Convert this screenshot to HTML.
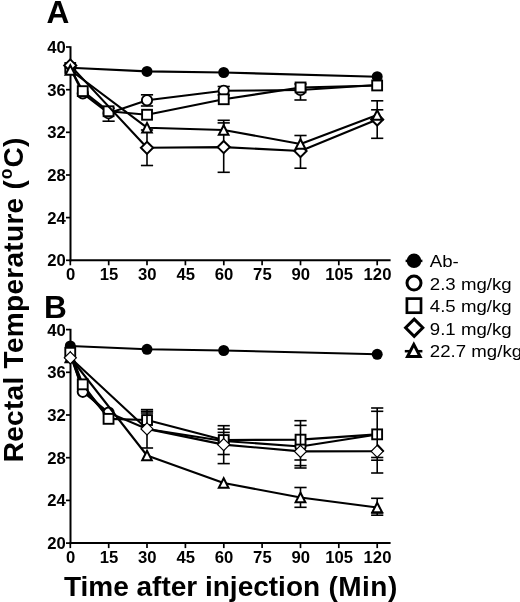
<!DOCTYPE html>
<html lang="en">
<head>
<meta charset="utf-8">
<title>Rectal temperature after injection</title>
<style>
html,body{margin:0;padding:0;background:#fff;}
body{width:520px;height:602px;overflow:hidden;font-family:"Liberation Sans",Arial,sans-serif;}
svg{display:block;will-change:transform;}
text{font-family:"Liberation Sans",Arial,sans-serif;fill:#000;}
.tk{font-size:15.6px;font-weight:bold;}
.lg{font-size:17.2px;}
.pl{font-size:31.6px;font-weight:bold;}
.ax{font-weight:bold;}
</style>
</head>
<body>
<svg width="520" height="602" viewBox="0 0 520 602">
<rect width="520" height="602" fill="#fff"/>
<g id="panelA">
<line x1="70.5" y1="46.2" x2="70.5" y2="261.3" stroke="#000" stroke-width="2"/>
<line x1="69.5" y1="260.3" x2="390.6" y2="260.3" stroke="#000" stroke-width="2"/>
<line x1="66" y1="47.0" x2="70" y2="47.0" stroke="#000" stroke-width="1.7"/>
<text transform="translate(65.7,53.0) scale(1.07,1)" text-anchor="end" class="tk">40</text>
<line x1="66" y1="89.7" x2="70" y2="89.7" stroke="#000" stroke-width="1.7"/>
<text transform="translate(65.7,95.7) scale(1.07,1)" text-anchor="end" class="tk">36</text>
<line x1="66" y1="132.3" x2="70" y2="132.3" stroke="#000" stroke-width="1.7"/>
<text transform="translate(65.7,138.3) scale(1.07,1)" text-anchor="end" class="tk">32</text>
<line x1="66" y1="175.0" x2="70" y2="175.0" stroke="#000" stroke-width="1.7"/>
<text transform="translate(65.7,181.0) scale(1.07,1)" text-anchor="end" class="tk">28</text>
<line x1="66" y1="217.6" x2="70" y2="217.6" stroke="#000" stroke-width="1.7"/>
<text transform="translate(65.7,223.6) scale(1.07,1)" text-anchor="end" class="tk">24</text>
<line x1="66" y1="260.3" x2="70" y2="260.3" stroke="#000" stroke-width="1.7"/>
<text transform="translate(65.7,266.3) scale(1.07,1)" text-anchor="end" class="tk">20</text>
<line x1="70.3" y1="260.3" x2="70.3" y2="265.3" stroke="#000" stroke-width="1.7"/>
<text transform="translate(70.6,280.2) scale(1.07,1)" text-anchor="middle" class="tk">0</text>
<line x1="108.7" y1="260.3" x2="108.7" y2="265.3" stroke="#000" stroke-width="1.7"/>
<text transform="translate(109.0,280.2) scale(1.07,1)" text-anchor="middle" class="tk">15</text>
<line x1="147.0" y1="260.3" x2="147.0" y2="265.3" stroke="#000" stroke-width="1.7"/>
<text transform="translate(147.3,280.2) scale(1.07,1)" text-anchor="middle" class="tk">30</text>
<line x1="185.4" y1="260.3" x2="185.4" y2="265.3" stroke="#000" stroke-width="1.7"/>
<text transform="translate(185.7,280.2) scale(1.07,1)" text-anchor="middle" class="tk">45</text>
<line x1="223.8" y1="260.3" x2="223.8" y2="265.3" stroke="#000" stroke-width="1.7"/>
<text transform="translate(224.1,280.2) scale(1.07,1)" text-anchor="middle" class="tk">60</text>
<line x1="262.1" y1="260.3" x2="262.1" y2="265.3" stroke="#000" stroke-width="1.7"/>
<text transform="translate(262.4,280.2) scale(1.07,1)" text-anchor="middle" class="tk">75</text>
<line x1="300.5" y1="260.3" x2="300.5" y2="265.3" stroke="#000" stroke-width="1.7"/>
<text transform="translate(300.8,280.2) scale(1.07,1)" text-anchor="middle" class="tk">90</text>
<line x1="338.8" y1="260.3" x2="338.8" y2="265.3" stroke="#000" stroke-width="1.7"/>
<text transform="translate(339.1,280.2) scale(1.07,1)" text-anchor="middle" class="tk">105</text>
<line x1="377.2" y1="260.3" x2="377.2" y2="265.3" stroke="#000" stroke-width="1.7"/>
<text transform="translate(377.5,280.2) scale(1.07,1)" text-anchor="middle" class="tk">120</text>
<polyline points="70.3,67.8 147.0,71.4 223.7,72.5 377.2,76.7" fill="none" stroke="#000" stroke-width="2.1" stroke-linejoin="round"/>
<circle cx="70.3" cy="67.8" r="5.5" fill="#000"/>
<circle cx="147.0" cy="71.4" r="5.5" fill="#000"/>
<circle cx="223.7" cy="72.5" r="5.5" fill="#000"/>
<circle cx="377.2" cy="76.7" r="5.5" fill="#000"/>
<polyline points="70.3,68.0 82.8,93.4 108.6,113.2 147.0,100.3 223.7,90.8 300.5,90.0 377.2,85.0" fill="none" stroke="#000" stroke-width="2.1" stroke-linejoin="round"/>
<line x1="108.6" y1="108.2" x2="108.6" y2="121.2" stroke="#000" stroke-width="1.6"/>
<line x1="102.5" y1="108.2" x2="114.7" y2="108.2" stroke="#000" stroke-width="1.6"/>
<line x1="102.5" y1="121.2" x2="114.7" y2="121.2" stroke="#000" stroke-width="1.6"/>
<line x1="147.0" y1="94.8" x2="147.0" y2="106.0" stroke="#000" stroke-width="1.6"/>
<line x1="140.9" y1="94.8" x2="153.1" y2="94.8" stroke="#000" stroke-width="1.6"/>
<line x1="140.9" y1="106.0" x2="153.1" y2="106.0" stroke="#000" stroke-width="1.6"/>
<line x1="223.7" y1="86.5" x2="223.7" y2="95.0" stroke="#000" stroke-width="1.6"/>
<line x1="217.6" y1="86.5" x2="229.8" y2="86.5" stroke="#000" stroke-width="1.6"/>
<line x1="217.6" y1="95.0" x2="229.8" y2="95.0" stroke="#000" stroke-width="1.6"/>
<line x1="300.5" y1="84.0" x2="300.5" y2="100.0" stroke="#000" stroke-width="1.6"/>
<line x1="294.4" y1="84.0" x2="306.6" y2="84.0" stroke="#000" stroke-width="1.6"/>
<line x1="294.4" y1="100.0" x2="306.6" y2="100.0" stroke="#000" stroke-width="1.6"/>
<circle cx="82.8" cy="93.4" r="5.15" fill="#fff" stroke="#000" stroke-width="1.9"/>
<circle cx="108.6" cy="113.2" r="5.15" fill="#fff" stroke="#000" stroke-width="1.9"/>
<circle cx="147.0" cy="100.3" r="5.15" fill="#fff" stroke="#000" stroke-width="1.9"/>
<circle cx="223.7" cy="90.8" r="5.15" fill="#fff" stroke="#000" stroke-width="1.9"/>
<circle cx="300.5" cy="90.0" r="5.15" fill="#fff" stroke="#000" stroke-width="1.9"/>
<polyline points="70.3,68.0 82.8,91.2 108.6,111.3 147.0,114.8 223.7,99.3 300.5,87.5 377.2,85.5" fill="none" stroke="#000" stroke-width="2.1" stroke-linejoin="round"/>
<rect x="65.3" y="63.0" width="9.9" height="9.9" fill="#fff" stroke="#000" stroke-width="1.9"/>
<rect x="77.8" y="86.2" width="9.9" height="9.9" fill="#fff" stroke="#000" stroke-width="1.9"/>
<rect x="103.6" y="106.3" width="9.9" height="9.9" fill="#fff" stroke="#000" stroke-width="1.9"/>
<rect x="142.1" y="109.8" width="9.9" height="9.9" fill="#fff" stroke="#000" stroke-width="1.9"/>
<rect x="218.8" y="94.3" width="9.9" height="9.9" fill="#fff" stroke="#000" stroke-width="1.9"/>
<rect x="295.6" y="82.5" width="9.9" height="9.9" fill="#fff" stroke="#000" stroke-width="1.9"/>
<rect x="372.2" y="80.5" width="9.9" height="9.9" fill="#fff" stroke="#000" stroke-width="1.9"/>
<polyline points="70.3,65.4 147.0,147.8 223.7,147.1 300.5,151.0 377.2,119.5" fill="none" stroke="#000" stroke-width="2.1" stroke-linejoin="round"/>
<line x1="147.0" y1="130.0" x2="147.0" y2="165.5" stroke="#000" stroke-width="1.6"/>
<line x1="140.9" y1="130.0" x2="153.1" y2="130.0" stroke="#000" stroke-width="1.6"/>
<line x1="140.9" y1="165.5" x2="153.1" y2="165.5" stroke="#000" stroke-width="1.6"/>
<line x1="223.7" y1="120.3" x2="223.7" y2="172.3" stroke="#000" stroke-width="1.6"/>
<line x1="217.6" y1="120.3" x2="229.8" y2="120.3" stroke="#000" stroke-width="1.6"/>
<line x1="217.6" y1="172.3" x2="229.8" y2="172.3" stroke="#000" stroke-width="1.6"/>
<line x1="300.5" y1="140.0" x2="300.5" y2="168.2" stroke="#000" stroke-width="1.6"/>
<line x1="294.4" y1="168.2" x2="306.6" y2="168.2" stroke="#000" stroke-width="1.6"/>
<line x1="377.2" y1="100.8" x2="377.2" y2="138.3" stroke="#000" stroke-width="1.6"/>
<line x1="371.1" y1="100.8" x2="383.3" y2="100.8" stroke="#000" stroke-width="1.6"/>
<line x1="371.1" y1="138.3" x2="383.3" y2="138.3" stroke="#000" stroke-width="1.6"/>
<path d="M70.3 59.4L76.3 65.4L70.3 71.5L64.2 65.4Z" fill="#fff" stroke="#000" stroke-width="2"/>
<path d="M147.0 141.8L153.1 147.8L147.0 153.9L140.9 147.8Z" fill="#fff" stroke="#000" stroke-width="2"/>
<path d="M223.7 141.0L229.8 147.1L223.7 153.2L217.6 147.1Z" fill="#fff" stroke="#000" stroke-width="2"/>
<path d="M300.5 144.9L306.6 151.0L300.5 157.1L294.4 151.0Z" fill="#fff" stroke="#000" stroke-width="2"/>
<path d="M377.2 113.5L383.2 119.5L377.2 125.5L371.1 119.5Z" fill="#fff" stroke="#000" stroke-width="2"/>
<polyline points="70.3,70.0 147.0,127.7 223.7,130.0 300.5,144.0 377.2,115.0" fill="none" stroke="#000" stroke-width="2.1" stroke-linejoin="round"/>
<line x1="223.7" y1="122.9" x2="223.7" y2="130.0" stroke="#000" stroke-width="1.6"/>
<line x1="217.6" y1="122.9" x2="229.8" y2="122.9" stroke="#000" stroke-width="1.6"/>
<line x1="300.5" y1="135.5" x2="300.5" y2="143.0" stroke="#000" stroke-width="1.6"/>
<line x1="294.4" y1="135.5" x2="306.6" y2="135.5" stroke="#000" stroke-width="1.6"/>
<line x1="377.2" y1="109.8" x2="377.2" y2="115.0" stroke="#000" stroke-width="1.6"/>
<line x1="371.1" y1="109.8" x2="383.3" y2="109.8" stroke="#000" stroke-width="1.6"/>
<path d="M70.3 65.2L75.1 74.8L65.5 74.8Z" fill="#fff" stroke="#000" stroke-width="2"/>
<path d="M147.0 122.9L151.8 132.5L142.2 132.5Z" fill="#fff" stroke="#000" stroke-width="2"/>
<path d="M223.7 125.2L228.5 134.8L218.8 134.8Z" fill="#fff" stroke="#000" stroke-width="2"/>
<path d="M300.5 139.2L305.4 148.8L295.6 148.8Z" fill="#fff" stroke="#000" stroke-width="2"/>
<path d="M377.2 110.2L382.1 119.8L372.3 119.8Z" fill="#fff" stroke="#000" stroke-width="2"/>
</g>
<g id="panelB">
<line x1="70.5" y1="328.8" x2="70.5" y2="544.1" stroke="#000" stroke-width="2"/>
<line x1="69.5" y1="543.1" x2="390.6" y2="543.1" stroke="#000" stroke-width="2"/>
<line x1="66" y1="329.6" x2="70" y2="329.6" stroke="#000" stroke-width="1.7"/>
<text transform="translate(65.7,335.6) scale(1.07,1)" text-anchor="end" class="tk">40</text>
<line x1="66" y1="372.3" x2="70" y2="372.3" stroke="#000" stroke-width="1.7"/>
<text transform="translate(65.7,378.3) scale(1.07,1)" text-anchor="end" class="tk">36</text>
<line x1="66" y1="415.0" x2="70" y2="415.0" stroke="#000" stroke-width="1.7"/>
<text transform="translate(65.7,421.0) scale(1.07,1)" text-anchor="end" class="tk">32</text>
<line x1="66" y1="457.7" x2="70" y2="457.7" stroke="#000" stroke-width="1.7"/>
<text transform="translate(65.7,463.7) scale(1.07,1)" text-anchor="end" class="tk">28</text>
<line x1="66" y1="500.4" x2="70" y2="500.4" stroke="#000" stroke-width="1.7"/>
<text transform="translate(65.7,506.4) scale(1.07,1)" text-anchor="end" class="tk">24</text>
<line x1="66" y1="543.1" x2="70" y2="543.1" stroke="#000" stroke-width="1.7"/>
<text transform="translate(65.7,549.1) scale(1.07,1)" text-anchor="end" class="tk">20</text>
<line x1="70.3" y1="543.1" x2="70.3" y2="548.1" stroke="#000" stroke-width="1.7"/>
<text transform="translate(70.6,563.0) scale(1.07,1)" text-anchor="middle" class="tk">0</text>
<line x1="108.7" y1="543.1" x2="108.7" y2="548.1" stroke="#000" stroke-width="1.7"/>
<text transform="translate(109.0,563.0) scale(1.07,1)" text-anchor="middle" class="tk">15</text>
<line x1="147.0" y1="543.1" x2="147.0" y2="548.1" stroke="#000" stroke-width="1.7"/>
<text transform="translate(147.3,563.0) scale(1.07,1)" text-anchor="middle" class="tk">30</text>
<line x1="185.4" y1="543.1" x2="185.4" y2="548.1" stroke="#000" stroke-width="1.7"/>
<text transform="translate(185.7,563.0) scale(1.07,1)" text-anchor="middle" class="tk">45</text>
<line x1="223.8" y1="543.1" x2="223.8" y2="548.1" stroke="#000" stroke-width="1.7"/>
<text transform="translate(224.1,563.0) scale(1.07,1)" text-anchor="middle" class="tk">60</text>
<line x1="262.1" y1="543.1" x2="262.1" y2="548.1" stroke="#000" stroke-width="1.7"/>
<text transform="translate(262.4,563.0) scale(1.07,1)" text-anchor="middle" class="tk">75</text>
<line x1="300.5" y1="543.1" x2="300.5" y2="548.1" stroke="#000" stroke-width="1.7"/>
<text transform="translate(300.8,563.0) scale(1.07,1)" text-anchor="middle" class="tk">90</text>
<line x1="338.8" y1="543.1" x2="338.8" y2="548.1" stroke="#000" stroke-width="1.7"/>
<text transform="translate(339.1,563.0) scale(1.07,1)" text-anchor="middle" class="tk">105</text>
<line x1="377.2" y1="543.1" x2="377.2" y2="548.1" stroke="#000" stroke-width="1.7"/>
<text transform="translate(377.5,563.0) scale(1.07,1)" text-anchor="middle" class="tk">120</text>
<polyline points="70.3,346.0 147.0,349.3 223.7,350.5 377.2,354.3" fill="none" stroke="#000" stroke-width="2.1" stroke-linejoin="round"/>
<circle cx="70.3" cy="346.0" r="5.5" fill="#000"/>
<circle cx="147.0" cy="349.3" r="5.5" fill="#000"/>
<circle cx="223.7" cy="350.5" r="5.5" fill="#000"/>
<circle cx="377.2" cy="354.3" r="5.5" fill="#000"/>
<polyline points="70.3,352.7 82.8,391.8 108.6,412.6 147.0,429.0 223.7,441.0 300.5,446.5 377.2,434.5" fill="none" stroke="#000" stroke-width="2.1" stroke-linejoin="round"/>
<polyline points="70.3,354.0 82.8,388.0 108.6,416.0" fill="none" stroke="#000" stroke-width="3.0" stroke-linejoin="round"/>
<circle cx="82.8" cy="391.8" r="5.15" fill="#fff" stroke="#000" stroke-width="1.9"/>
<circle cx="108.6" cy="412.6" r="5.15" fill="#fff" stroke="#000" stroke-width="1.9"/>
<circle cx="223.7" cy="441.0" r="5.15" fill="#fff" stroke="#000" stroke-width="1.9"/>
<circle cx="300.5" cy="446.5" r="5.15" fill="#fff" stroke="#000" stroke-width="1.9"/>
<polyline points="70.3,352.7 82.8,384.3 108.6,418.9 147.0,420.0 223.7,440.0 300.5,439.6 377.2,434.4" fill="none" stroke="#000" stroke-width="2.1" stroke-linejoin="round"/>
<rect x="65.3" y="347.8" width="9.9" height="9.9" fill="#fff" stroke="#000" stroke-width="1.9"/>
<rect x="77.8" y="379.4" width="9.9" height="9.9" fill="#fff" stroke="#000" stroke-width="1.9"/>
<rect x="103.6" y="413.9" width="9.9" height="9.9" fill="#fff" stroke="#000" stroke-width="1.9"/>
<rect x="142.1" y="415.1" width="9.9" height="9.9" fill="#fff" stroke="#000" stroke-width="1.9"/>
<rect x="218.8" y="435.1" width="9.9" height="9.9" fill="#fff" stroke="#000" stroke-width="1.9"/>
<rect x="295.6" y="434.7" width="9.9" height="9.9" fill="#fff" stroke="#000" stroke-width="1.9"/>
<rect x="372.2" y="429.4" width="9.9" height="9.9" fill="#fff" stroke="#000" stroke-width="1.9"/>
<polyline points="70.3,357.5 147.0,455.5 223.7,483.0 300.5,497.5 377.2,507.5" fill="none" stroke="#000" stroke-width="2.1" stroke-linejoin="round"/>
<line x1="300.5" y1="487.5" x2="300.5" y2="507.3" stroke="#000" stroke-width="1.6"/>
<line x1="294.4" y1="487.5" x2="306.6" y2="487.5" stroke="#000" stroke-width="1.6"/>
<line x1="294.4" y1="507.3" x2="306.6" y2="507.3" stroke="#000" stroke-width="1.6"/>
<line x1="377.2" y1="498.3" x2="377.2" y2="515.0" stroke="#000" stroke-width="1.6"/>
<line x1="371.1" y1="498.3" x2="383.3" y2="498.3" stroke="#000" stroke-width="1.6"/>
<line x1="371.1" y1="513.0" x2="383.3" y2="513.0" stroke="#000" stroke-width="1.6"/>
<line x1="371.1" y1="515.2" x2="383.3" y2="515.2" stroke="#000" stroke-width="1.6"/>
<path d="M70.3 352.7L75.1 362.3L65.5 362.3Z" fill="#fff" stroke="#000" stroke-width="2"/>
<path d="M147.0 450.7L151.8 460.3L142.2 460.3Z" fill="#fff" stroke="#000" stroke-width="2"/>
<path d="M223.7 478.2L228.5 487.8L218.8 487.8Z" fill="#fff" stroke="#000" stroke-width="2"/>
<path d="M300.5 492.7L305.4 502.3L295.6 502.3Z" fill="#fff" stroke="#000" stroke-width="2"/>
<path d="M377.2 502.7L382.1 512.3L372.3 512.3Z" fill="#fff" stroke="#000" stroke-width="2"/>
<polyline points="70.3,357.8 147.0,428.9 223.7,444.6 300.5,451.4 377.2,451.3" fill="none" stroke="#000" stroke-width="2.1" stroke-linejoin="round"/>
<line x1="147.0" y1="409.6" x2="147.0" y2="448.0" stroke="#000" stroke-width="1.6"/>
<line x1="140.9" y1="409.6" x2="153.1" y2="409.6" stroke="#000" stroke-width="1.6"/>
<line x1="140.9" y1="411.3" x2="153.1" y2="411.3" stroke="#000" stroke-width="1.6"/>
<line x1="140.9" y1="413.0" x2="153.1" y2="413.0" stroke="#000" stroke-width="1.6"/>
<line x1="140.9" y1="448.0" x2="153.1" y2="448.0" stroke="#000" stroke-width="1.6"/>
<line x1="223.7" y1="425.7" x2="223.7" y2="463.6" stroke="#000" stroke-width="1.6"/>
<line x1="217.6" y1="425.7" x2="229.8" y2="425.7" stroke="#000" stroke-width="1.6"/>
<line x1="217.6" y1="429.1" x2="229.8" y2="429.1" stroke="#000" stroke-width="1.6"/>
<line x1="217.6" y1="432.4" x2="229.8" y2="432.4" stroke="#000" stroke-width="1.6"/>
<line x1="217.6" y1="454.5" x2="229.8" y2="454.5" stroke="#000" stroke-width="1.6"/>
<line x1="217.6" y1="463.6" x2="229.8" y2="463.6" stroke="#000" stroke-width="1.6"/>
<line x1="300.5" y1="420.7" x2="300.5" y2="468.0" stroke="#000" stroke-width="1.6"/>
<line x1="294.4" y1="420.7" x2="306.6" y2="420.7" stroke="#000" stroke-width="1.6"/>
<line x1="294.4" y1="425.4" x2="306.6" y2="425.4" stroke="#000" stroke-width="1.6"/>
<line x1="294.4" y1="460.0" x2="306.6" y2="460.0" stroke="#000" stroke-width="1.6"/>
<line x1="294.4" y1="465.6" x2="306.6" y2="465.6" stroke="#000" stroke-width="1.6"/>
<line x1="294.4" y1="468.0" x2="306.6" y2="468.0" stroke="#000" stroke-width="1.6"/>
<line x1="377.2" y1="408.0" x2="377.2" y2="473.0" stroke="#000" stroke-width="1.6"/>
<line x1="371.1" y1="408.0" x2="383.3" y2="408.0" stroke="#000" stroke-width="1.6"/>
<line x1="371.1" y1="411.3" x2="383.3" y2="411.3" stroke="#000" stroke-width="1.6"/>
<line x1="371.1" y1="457.5" x2="383.3" y2="457.5" stroke="#000" stroke-width="1.6"/>
<line x1="371.1" y1="460.2" x2="383.3" y2="460.2" stroke="#000" stroke-width="1.6"/>
<line x1="371.1" y1="473.0" x2="383.3" y2="473.0" stroke="#000" stroke-width="1.6"/>
<path d="M70.3 351.8L76.3 357.8L70.3 363.8L64.3 357.8Z" fill="#fff" stroke="#000" stroke-width="1.2"/>
<path d="M147.0 422.9L153.0 428.9L147.0 434.9L141.0 428.9Z" fill="#fff" stroke="#000" stroke-width="1.2"/>
<path d="M223.7 438.6L229.7 444.6L223.7 450.6L217.7 444.6Z" fill="#fff" stroke="#000" stroke-width="1.2"/>
<path d="M300.5 445.4L306.5 451.4L300.5 457.4L294.5 451.4Z" fill="#fff" stroke="#000" stroke-width="1.2"/>
<path d="M377.2 445.3L383.2 451.3L377.2 457.3L371.2 451.3Z" fill="#fff" stroke="#000" stroke-width="1.2"/>
<polyline points="377.5,444.9 383.8,451.6" fill="none" stroke="#000" stroke-width="2.0" stroke-linejoin="round"/>
</g>
<g id="legend">
<line x1="405.6" y1="260.9" x2="422.4" y2="260.9" stroke="#000" stroke-width="2.5"/>
<circle cx="414.0" cy="260.8" r="7.3" fill="#000"/>
<circle cx="414.0" cy="283.1" r="7.0" fill="#fff" stroke="#000" stroke-width="3"/>
<rect x="406.9" y="298.6" width="14.1" height="14.1" fill="#fff" stroke="#000" stroke-width="2.7"/>
<path d="M414.2 319.1L422.8 327.7L414.2 336.3L405.6 327.7Z" fill="#fff" stroke="#000" stroke-width="3"/>
<line x1="404.8" y1="351.2" x2="422.4" y2="351.2" stroke="#000" stroke-width="2.5"/>
<path d="M413.8 344.4L420.1 356.6L407.5 356.6Z" fill="#fff" stroke="#000" stroke-width="3"/>
<text transform="translate(429.8,267.0) scale(1.085,1)" class="lg">Ab-</text>
<text transform="translate(429.8,289.6) scale(1.085,1)" class="lg">2.3 mg/kg</text>
<text transform="translate(429.8,312.2) scale(1.085,1)" class="lg">4.5 mg/kg</text>
<text transform="translate(429.8,334.7) scale(1.085,1)" class="lg">9.1 mg/kg</text>
<text transform="translate(429.8,357.4) scale(1.085,1)" class="lg">22.7 mg/kg</text>
</g>
<text x="46.6" y="22.6" class="pl">A</text>
<text x="43.9" y="317.8" class="pl">B</text>
<text x="63.9" y="596" class="ax" font-size="28">Time after injection <tspan dx="0.5" letter-spacing="0.5">(Min)</tspan></text>
<text transform="translate(23.2,462.3) rotate(-90)" class="ax" font-size="28" letter-spacing="0.3">Rectal Temperature (<tspan dy="-11.5" dx="0.5" font-size="17.5">o</tspan><tspan dy="11.5" dx="0.8">C)</tspan></text>
</svg>
</body>
</html>
